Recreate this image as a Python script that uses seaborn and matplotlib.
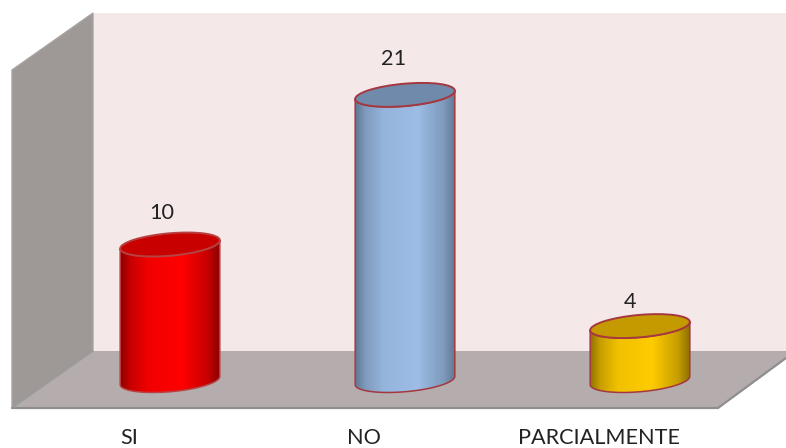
import numpy as np
import pandas as pd
import matplotlib
matplotlib.use("Agg")
import matplotlib.pyplot as plt
from matplotlib.colors import LinearSegmentedColormap, to_rgb
from matplotlib.patches import Ellipse, PathPatch, Polygon
from matplotlib.path import Path
from matplotlib.transforms import Affine2D, IdentityTransform
import seaborn as sns

categories = ["SI", "NO", "PARCIALMENTE"]
values = [10, 21, 4]
side_colors = ["#ff0000", "#9dbde6", "#ffcc00"]
edge_shades = ["#8c0000", "#5f7690", "#8f7000"]
cap_colors = ["#c80000", "#6f8aab", "#c49a00"]
outline_colors = ["#b84040", "#a5383f", "#a5383f"]
label_nudges = [(-8, 32), (-11, 36), (-10, 24)]

W, H = 786, 448
BASE_PX = 380.5
PX_PER_UNIT = 13.6
BAR_SPACING = 235.0
FIRST_CENTER = 170.0
BAR_PX = 100.0
TILT = 5.0
CAP_SEMI_MINOR = 11.2

sns.set_theme(style="white")
plt.rcParams["font.family"] = ["Lato", "DejaVu Sans"]

fig = plt.figure(figsize=(W / 100, H / 100), dpi=100, facecolor="white")
ax = fig.add_axes([0, 1 - BASE_PX / H, 1, BASE_PX / H])

frame = pd.DataFrame({"answer": categories, "count": values})
sns.barplot(
    data=frame, x="answer", y="count", hue="answer",
    palette=side_colors, saturation=1, width=BAR_PX / BAR_SPACING,
    legend=False, ax=ax, zorder=2,
)

ax.set_xlim(-FIRST_CENTER / BAR_SPACING, (W - FIRST_CENTER) / BAR_SPACING)
ax.set_ylim(0, BASE_PX / PX_PER_UNIT)
ax.patch.set_alpha(0)
sns.despine(ax=ax, left=True, bottom=True, top=True, right=True)
ax.set_xlabel("")
ax.set_ylabel("")
ax.set_yticks([])
ax.set_xticks(np.arange(len(categories)) - 41 / BAR_SPACING, categories)
ax.tick_params(axis="x", length=0, pad=34, labelsize=15.6, colors="#222222")

# Chart box: pixel coordinates measured from the top-left corner
box = Affine2D().scale(1, -1).translate(0, H)
walls = [
    ([(93, 13), (786, 13), (786, 351), (93, 351)], "#f4e8e9", "none"),
    ([(12, 70), (93, 13), (93, 351), (12, 408)], "#9e9896", "#a8a4a2"),
    ([(12, 408), (93, 351), (786, 351), (786, 358), (718, 408)], "#b5adad", "none"),
]
for corners, face, edge in walls:
    ax.add_patch(Polygon(corners, closed=True, facecolor=face, edgecolor=edge,
                         linewidth=1, transform=box, clip_on=False, zorder=0))
ax.plot([12, 718, 786], [408, 408, 358], color="#8e8e8e", lw=1.6,
        transform=box, clip_on=False, zorder=0.5)
ax.plot([12, 93], [408, 351], color="#9a9a9a", lw=1,
        transform=box, clip_on=False, zorder=0.5)


def ellipse_arc(cx, cy, start, stop):
    """Points along a cap outline tilted by TILT degrees, in display pixels."""
    t = np.radians(np.linspace(start, stop, 60))
    a, b = BAR_PX / 2, CAP_SEMI_MINOR
    th = np.radians(TILT)
    px = a * np.cos(t) * np.cos(th) - b * np.sin(t) * np.sin(th)
    py = a * np.cos(t) * np.sin(th) + b * np.sin(t) * np.cos(th)
    return np.column_stack([cx + px, cy + py])


half = BAR_PX / BAR_SPACING / 2
stops = [0, 0.1, 0.28, 0.62, 0.88, 1]
for i, (bar, value) in enumerate(zip(ax.patches[:len(values)], values)):
    pos = bar.get_x() + bar.get_width() / 2
    bx, by = ax.transData.transform((pos, 0))
    tx, ty = ax.transData.transform((pos, value))

    # Cylinder silhouette: lower arc of the base joined to the top cap
    lower = ellipse_arc(bx, by, 180, 360)
    upper = ellipse_arc(tx, ty, 360, 180)
    body = Path(np.vstack([lower, upper, lower[:1]]), closed=True)
    outline = PathPatch(body, transform=IdentityTransform(), facecolor="none",
                        edgecolor=outline_colors[i], linewidth=1.1, zorder=2.4,
                        clip_on=False)
    ax.add_patch(outline)
    bar.set_clip_path(outline)

    # Horizontal shading across the curved side; extends below the axes to fill the base
    dark = np.array(to_rgb(edge_shades[i]))
    bright = np.array(to_rgb(side_colors[i]))
    mid = tuple(0.5 * dark + 0.5 * bright)
    soft = tuple(0.12 * dark + 0.88 * bright)
    cmap = LinearSegmentedColormap.from_list(
        f"side{i}",
        list(zip(stops, [tuple(dark), mid, soft, tuple(bright), mid, tuple(dark)])))
    shade = ax.imshow(np.linspace(0, 1, 256)[None, :], cmap=cmap, aspect="auto",
                      extent=(pos - half, pos + half, -2, value + 2),
                      zorder=2.2, interpolation="bilinear")
    shade.set_clip_box(fig.bbox)
    shade.set_clip_path(outline)

    ax.add_patch(Ellipse((tx, ty), BAR_PX, 2 * CAP_SEMI_MINOR, angle=TILT,
                         transform=IdentityTransform(), facecolor=cap_colors[i],
                         edgecolor=outline_colors[i], linewidth=1.4, zorder=3,
                         clip_on=False))

    dx, dy = label_nudges[i]
    ax.annotate(str(value), (pos, value), xytext=(dx * 0.72, dy * 0.72),
                textcoords="offset points", ha="center", va="center",
                fontsize=15.6, color="#222222", zorder=4)

ax.set_xlim(-FIRST_CENTER / BAR_SPACING, (W - FIRST_CENTER) / BAR_SPACING)
ax.set_ylim(0, BASE_PX / PX_PER_UNIT)

fig.savefig("out.png", dpi=100, facecolor="white")
